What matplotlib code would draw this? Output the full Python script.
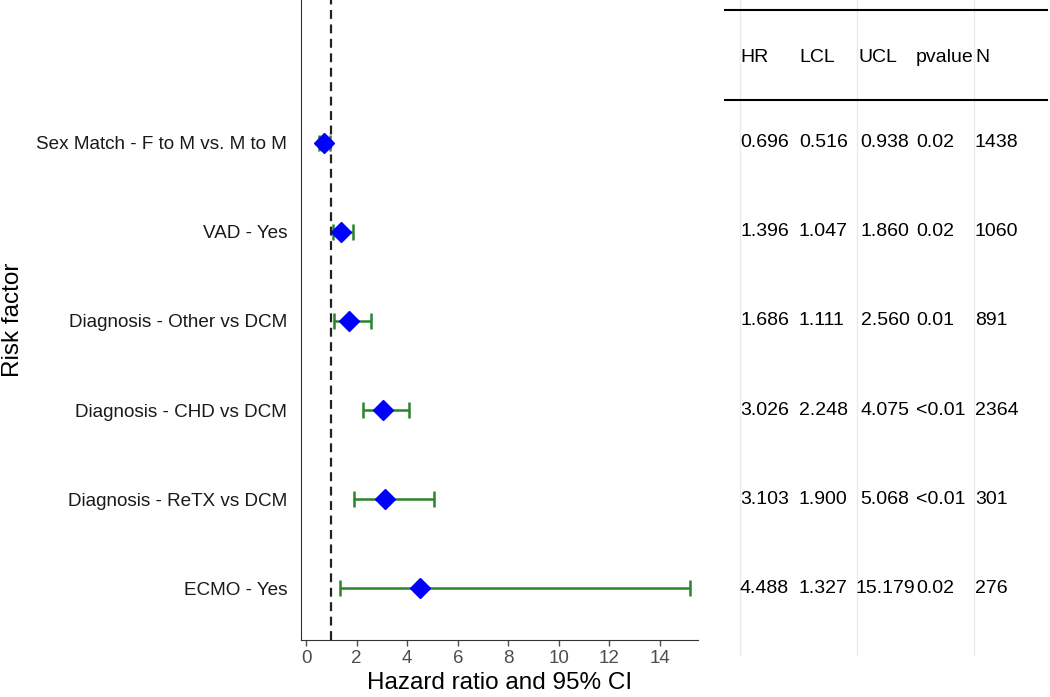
import matplotlib
matplotlib.use("Agg")
import matplotlib.pyplot as plt
import matplotlib.transforms as mtransforms

plt.rcParams['font.family'] = ['Liberation Sans', 'DejaVu Sans']

# Данные (снизу вверх)
factors = ['ECMO - Yes', 'Diagnosis - ReTX vs DCM', 'Diagnosis - CHD vs DCM',
           'Diagnosis - Other vs DCM', 'VAD - Yes', 'Sex Match - F to M vs. M to M']
hr = [4.488, 3.103, 3.026, 1.686, 1.396, 0.696]
lcl = [1.327, 1.900, 2.248, 1.111, 1.047, 0.516]
ucl = [15.179, 5.068, 4.075, 2.560, 1.860, 0.938]
pval = ['0.02', '<0.01', '<0.01', '0.01', '0.02', '0.02']
nobs = ['276', '301', '2364', '891', '1060', '1438']
headers = ['HR', 'LCL', 'UCL', 'pvalue', 'N']
xticks = [0, 2, 4, 6, 8, 10, 12, 14]

W, H = 1050, 697
fig = plt.figure(figsize=(W / 100, H / 100), dpi=100)
ax = fig.add_axes([301 / W, 57 / H, (698 - 301) / W, 640 / H])

ypos = list(range(1, len(factors) + 1))
err = [[h - l for h, l in zip(hr, lcl)], [u - h for h, u in zip(hr, ucl)]]
ax.errorbar(hr, ypos, xerr=err, fmt='none', ecolor='#2a842a', elinewidth=1.8,
            capsize=6, capthick=1.8, zorder=2)
ax.plot(hr, ypos, 'D', color='#0000ff', markersize=10, zorder=3)
ax.axvline(1, color='#222222', ls=(0, (4, 2.5)), lw=1.6, zorder=1)

ax.set_xlim(-0.2, 15.5)
ax.set_ylim(0.42, 7.6)
ax.set_xticks(xticks)
ax.set_yticks(ypos)
ax.set_yticklabels(factors, fontsize=13.6, color='#1a1a1a')
ax.tick_params(axis='x', labelsize=13.5, labelcolor='#4d4d4d', color='#4d4d4d',
               length=4, width=1)
ax.tick_params(axis='y', length=0, pad=10)
for s in ['top', 'right']:
    ax.spines[s].set_visible(False)
ax.spines['left'].set_color('#333333')
ax.spines['bottom'].set_color('#333333')
ax.set_xlabel('Hazard ratio and 95% CI', fontsize=17.5, labelpad=3)
fig.text(13 / W, 1 - 320 / H, 'Risk factor', fontsize=17.5, rotation=90,
         ha='center', va='center')

# Таблица справа
tab = fig.add_axes([0, 0, 1, 1], zorder=-1)
tab.set_xlim(0, W)
tab.set_ylim(H, 0)
tab.axis('off')
for gx in [740, 857, 974]:
    tab.plot([gx, gx], [0, 655], color='#ebebeb', lw=1)
tab.plot([725, 1047], [10, 10], color='black', lw=1.5)
tab.plot([725, 1047], [100, 100], color='black', lw=1.5)

hx = [740, 799, 858, 916, 975]
for x, h in zip(hx, headers):
    tab.text(x, 58, h, fontsize=14, va='center', ha='left')

trans = mtransforms.blended_transform_factory(tab.transData, ax.transData)
for i, y in enumerate(ypos):
    tab.text(740, y, f'{hr[i]:.3f}', fontsize=14, va='center', ha='left', transform=trans)
    tab.text(799, y, f'{lcl[i]:.3f}', fontsize=14, va='center', ha='left', transform=trans)
    tab.text(885, y, f'{ucl[i]:.3f}', fontsize=14, va='center', ha='center', transform=trans)
    tab.text(916, y, pval[i], fontsize=14, va='center', ha='left', transform=trans)
    tab.text(975, y, nobs[i], fontsize=14, va='center', ha='left', transform=trans)

fig.savefig('out.png', dpi=100)
